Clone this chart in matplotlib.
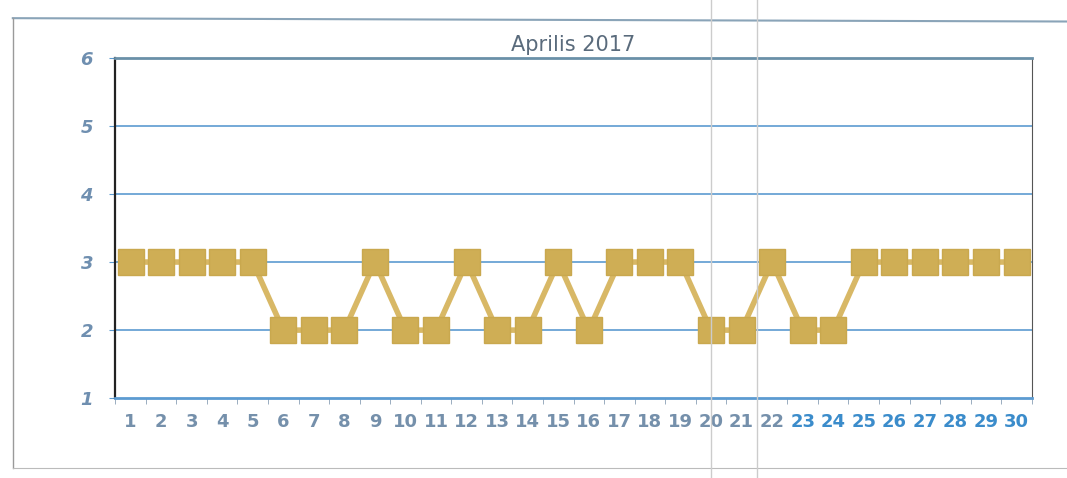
import matplotlib.pyplot as plt
from matplotlib.lines import Line2D

days = list(range(1, 31))
values = [3, 3, 3, 3, 3, 2, 2, 2, 3, 2, 2, 3, 2, 2, 3, 2, 3, 3, 3, 2, 2, 3, 2, 2, 3, 3, 3, 3, 3, 3]
day_labels = [str(d) for d in days]
title = "Aprilis 2017"

fig = plt.figure(figsize=(10.67, 4.78), dpi=100)
ax = fig.add_axes([0.108, 0.167, 0.859, 0.712])

# grid lines
for y in [2, 3, 4, 5]:
    ax.axhline(y, color="#5c9bd1", lw=1.2, zorder=1)

ax.plot(days, values, color="#d8b866", lw=4, zorder=2)
ax.plot(days, values, ls="none", marker="s", ms=19, color="#cfae55",
        markeredgecolor="#c9a84e", zorder=3)

ax.set_xlim(0.5, 30.5)
ax.set_ylim(1, 6)
ax.set_yticks([1, 2, 3, 4, 5, 6])
ax.set_yticklabels(["1", "2", "3", "4", "5", "6"], fontsize=13, fontweight="bold",
                   style="italic", color="#6f8fb0")
ax.set_xticks(days)
ax.set_xticklabels(day_labels, fontsize=13, fontweight="bold")
for i, lab in enumerate(ax.get_xticklabels()):
    lab.set_color("#7590ab" if i < 22 else "#3b8ccb")
ax.set_xticks([d + 0.5 for d in range(0, 31)], minor=True)
ax.tick_params(axis="x", which="major", length=0, pad=11)
ax.tick_params(axis="x", which="minor", length=4, color="#8aa0b5")
ax.tick_params(axis="y", length=4, color="#5c9bd1", pad=12)

ax.spines["left"].set_color("#222222")
ax.spines["left"].set_linewidth(1.6)
ax.spines["bottom"].set_color("#5c9bd1")
ax.spines["bottom"].set_linewidth(2)
ax.spines["top"].set_color("#6a90a8")
ax.spines["top"].set_linewidth(2)
ax.spines["right"].set_color("#555555")

ax.set_title(title, fontsize=15, color="#5a6b7c", pad=5)

# scanned page frame and fold lines
fig.add_artist(Line2D([0.012, 1.0], [0.962, 0.955], color="#8aa4b8", lw=1.5))
fig.add_artist(Line2D([0.012, 0.012], [0.962, 0.02], color="#9a9a9a", lw=1))
fig.add_artist(Line2D([0.012, 1.0], [0.02, 0.02], color="#bbbbbb", lw=0.8))
fig.add_artist(Line2D([0.666, 0.666], [0.0, 1.0], color="#cccccc", lw=1))
fig.add_artist(Line2D([0.709, 0.709], [0.0, 1.0], color="#cccccc", lw=1))

fig.savefig("out.png", dpi=100)
